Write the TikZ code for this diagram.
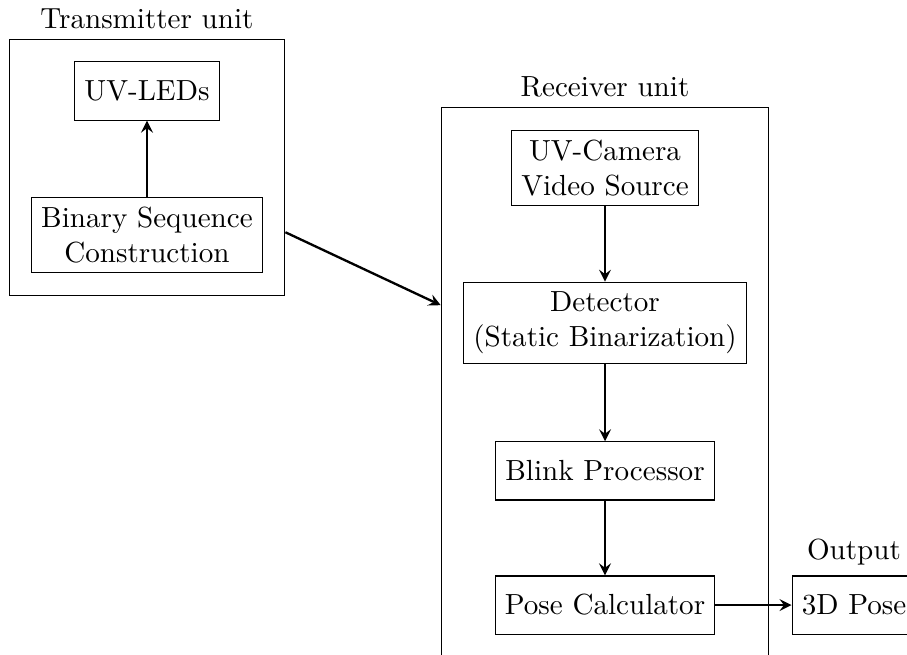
\documentclass[tikz,border=0pt]{standalone}
\usetikzlibrary{fit}
\tikzset{ b/.style = { rectangle % block
        , draw
        , align = center
        , minimum height = 20pt
        }
        , g/.style = { rectangle % group
        , draw
        , inner sep = 7.5pt
        }
        }
\begin{document}
\begin{tikzpicture}[>=stealth,
        edge_style/.style={draw=black, thick,->}]
        \useasboundingbox (0,0) rectangle (10.954,-7.910);

        \node [b](n1) at (1.775,-1.099) {UV-LEDs};
        \node [b](n2) at (1.775,-2.838) {Binary Sequence\\Construction};
        \node [b](n3) at (7.307,-2.029) {UV-Camera\\Video Source};
        \node [b](n4) at (7.307,-3.901) {Detector\\(Static Binarization)};
        \node [b](n5) at (7.307,-5.688) {Blink Processor};
        \node [b](n6) at (7.307,-7.307) {Pose Calculator};
        \node [b,label={above:Output}](n7) at (10.314,-7.307) {3D Pose};

        \node [g,fit=(n1)(n2),label={above:Transmitter unit}](t) {};
        \node [g,fit=(n3)(n4)(n5)(n6),label={above:Receiver unit}](r) {};

        \draw [edge_style] (n2) -- (n1);
        \draw [edge_style] (t) -- (r);
        \draw [edge_style] (n3) -- (n4);
        \draw [edge_style] (n4) -- (n5);
        \draw [edge_style] (n5) -- (n6);
        \draw [edge_style] (n6) -- (n7);
\end{tikzpicture}
\end{document}
